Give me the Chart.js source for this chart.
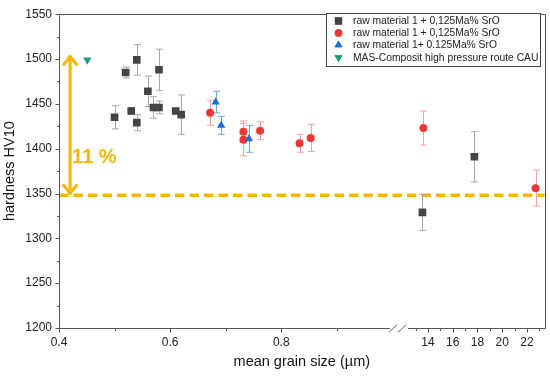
<!DOCTYPE html>
<html><head><meta charset="utf-8">
<script src="https://cdn.jsdelivr.net/npm/chart.js@4/dist/chart.umd.min.js"></script>
<style>html,body{margin:0;padding:0;background:#fff}#wrap{width:550px;height:376px;position:relative}</style>
</head><body><div id="wrap"><canvas id="c" width="550" height="376"></canvas></div>
<script>
// ---- data ----
const seriesLabels = ['raw material 1 + 0,125Ma% SrO', 'raw material 1 + 0,125Ma% SrO', 'raw material 1+ 0.125Ma% SrO', 'MAS-Composit high pressure route CAU'];
const greyX   = [0.50, 0.52, 0.54, 0.53, 0.54, 0.56, 0.57, 0.58, 0.58, 0.61, 0.62, 13.55, 17.75];
const greyY   = [1435, 1485, 1499, 1442, 1429, 1464, 1446, 1446, 1488, 1442, 1438, 1329, 1391];
const greyErr = [13, 6, 17, 4, 9, 17, 12, 7, 23, 3, 22, 20, 28];
const redX    = [0.672, 0.732, 0.732, 0.762, 0.833, 0.853, 13.63, 22.70];
const redY    = [1440, 1419, 1410, 1420, 1406, 1412, 1423, 1356];
const redErr  = [14, 12, 18, 10, 10, 15, 19, 20];
const blueX   = [0.682, 0.692, 0.742];
const blueY   = [1452, 1426, 1411];
const blueErr = [12, 10, 15];
const greenX  = [0.451];
const greenY  = [1499];
const greenErr = [0];
const refLevel = 1348;       // dashed line
const arrowTop = 1504;       // arrow upper end
const arrowX = 0.42;
const diffLabel = '11 %';
const diffLabelY = 1384;
const xTickValues = [0.4, 0.5, 0.6, 0.7, 0.8, 0.9, 13, 14, 15, 16, 17, 18, 19, 20, 21, 22, 23];
const xTickLabels = ['0.4', '', '0.6', '', '0.8', '', '', '14', '', '16', '', '18', '', '20', '', '22', ''];
const yMin = 1200, yMax = 1550, yStep = 25, yLabelStep = 50;
const xTitle = 'mean grain size (µm)';
const yTitle = 'hardness HV10';

// ---- broken axis mapping ----
const LEFT_END = 1.0, U14 = 1.0642, R = 0.02226;
function toAxis(x) { return x <= LEFT_END ? x : U14 + (x - 14) * R; }
const X_MIN = 0.4, X_MAX = 1.2741;

const FONT = '"Liberation Sans", Arial, sans-serif';
const ORANGE = '#f7b500';

function pts(xs, ys) { return xs.map((x, i) => ({ x: toAxis(x), y: ys[i] })); }

const datasets = [
  { label: seriesLabels[0], data: pts(greyX, greyY), errs: greyErr, errColor: '#a8a8a8', pointStyle: 'rect', radius: 5.4, rotation: 0, backgroundColor: '#444444', order: 4 },
  { label: seriesLabels[1], data: pts(redX, redY), errs: redErr, errColor: '#f5a0a0', pointStyle: 'circle', radius: 4, rotation: 0, backgroundColor: '#f03535', order: 3 },
  { label: seriesLabels[2], data: pts(blueX, blueY), errs: blueErr, errColor: '#6aa6e6', pointStyle: 'triangle', radius: 4.8, rotation: 0, backgroundColor: '#1a6fd6', order: 2 },
  { label: seriesLabels[3], data: pts(greenX, greenY), errs: greenErr, errColor: '#1b9e6e', pointStyle: 'triangle', radius: 4.8, rotation: 180, backgroundColor: '#1b9e6e', order: 1 }
].map(d => Object.assign(d, { pointRadius: d.radius, pointHoverRadius: d.radius, pointRotation: d.rotation, borderWidth: 0, pointBorderWidth: 0, borderColor: d.backgroundColor, showLine: false }));

const decor = {
  id: 'decor',
  beforeDatasetsDraw(chart) {
    const { ctx, scales: { x, y }, chartArea: a } = chart;
    ctx.save();
    // dashed reference line
    ctx.strokeStyle = ORANGE; ctx.lineWidth = 3.5; ctx.setLineDash([9.5, 5]);
    const ry = y.getPixelForValue(refLevel);
    ctx.beginPath(); ctx.moveTo(a.left, ry); ctx.lineTo(a.right, ry); ctx.stroke();
    ctx.setLineDash([]);
    // double arrow
    const ax = x.getPixelForValue(toAxis(arrowX));
    const t = y.getPixelForValue(arrowTop), b = ry - 1;
    ctx.lineWidth = 3; ctx.lineCap = 'round'; ctx.lineJoin = 'round';
    ctx.beginPath(); ctx.moveTo(ax, t + 1); ctx.lineTo(ax, b - 1); ctx.stroke();
    ctx.beginPath(); ctx.moveTo(ax - 6.5, t + 9); ctx.lineTo(ax, t + 1); ctx.lineTo(ax + 6.5, t + 9); ctx.stroke();
    ctx.beginPath(); ctx.moveTo(ax - 6.5, b - 9); ctx.lineTo(ax, b - 1); ctx.lineTo(ax + 6.5, b - 9); ctx.stroke();
    ctx.fillStyle = ORANGE; ctx.font = 'bold 20px ' + FONT; ctx.textBaseline = 'alphabetic'; ctx.textAlign = 'left';
    ctx.fillText(diffLabel, ax + 2, y.getPixelForValue(diffLabelY));
    // error bars
    chart.data.datasets.forEach((ds, di) => {
      const meta = chart.getDatasetMeta(di);
      ctx.strokeStyle = ds.errColor; ctx.lineWidth = 1; ctx.lineCap = 'butt';
      ds.data.forEach((p, i) => {
        const e = ds.errs[i]; if (!e) return;
        const px = Math.round(meta.data[i].x) + 0.5;
        const y1 = y.getPixelForValue(p.y + e), y2 = y.getPixelForValue(p.y - e);
        ctx.beginPath();
        ctx.moveTo(px, y1); ctx.lineTo(px, y2);
        ctx.moveTo(px - 3.5, y1); ctx.lineTo(px + 3.5, y1);
        ctx.moveTo(px - 3.5, y2); ctx.lineTo(px + 3.5, y2);
        ctx.stroke();
      });
    });
    ctx.restore();
  },
  afterDraw(chart) {
    const { ctx, scales: { x, y }, chartArea: a } = chart;
    ctx.save();
    ctx.strokeStyle = '#555'; ctx.lineWidth = 1;
    const L = Math.round(a.left) + 0.5, Rr = Math.round(a.right) + 0.5, T = Math.round(a.top) + 0.5, B = Math.round(a.bottom) + 0.5;
    // frame with break on bottom
    const brk1 = 390, brk2 = 408;
    ctx.beginPath();
    ctx.moveTo(L, T); ctx.lineTo(Rr, T); ctx.lineTo(Rr, B); ctx.lineTo(brk2, B);
    ctx.moveTo(brk1, B); ctx.lineTo(L, B); ctx.lineTo(L, T);
    ctx.stroke();
    ctx.beginPath();
    ctx.moveTo(brk1 - 1, B + 4); ctx.lineTo(brk1 + 7, B - 4);
    ctx.moveTo(brk1 + 8, B + 4); ctx.lineTo(brk1 + 16, B - 4);
    ctx.stroke();
    // x ticks
    ctx.beginPath();
    x.ticks.forEach((tk, i) => {
      const px = Math.round(x.getPixelForValue(tk.value)) + 0.5;
      const len = xTickLabels[i] ? 4 : 2.5;
      ctx.moveTo(px, B); ctx.lineTo(px, B + len);
    });
    // y ticks
    y.ticks.forEach(tk => {
      const py = Math.round(y.getPixelForValue(tk.value)) + 0.5;
      const len = tk.value % yLabelStep === 0 ? 4 : 2.5;
      ctx.moveTo(L, py); ctx.lineTo(L - len, py);
    });
    ctx.stroke();
    // axis titles
    ctx.fillStyle = '#111'; ctx.font = '14.5px ' + FONT; ctx.textAlign = 'center'; ctx.textBaseline = 'middle';
    ctx.fillText(xTitle, (a.left + a.right) / 2, 362);
    ctx.save(); ctx.translate(10, (a.top + a.bottom) / 2); ctx.rotate(-Math.PI / 2);
    ctx.fillText(yTitle, 0, 0); ctx.restore();
    // legend
    const lx = 326, ly = 13, lw = 214, lh = 53;
    ctx.fillStyle = '#fff'; ctx.fillRect(lx, ly, lw, lh);
    ctx.strokeStyle = '#444'; ctx.strokeRect(lx + 0.5, ly + 0.5, lw, lh);
    const rows = [21, 33, 45, 57.5];
    chart.data.datasets.forEach((ds, i) => {
      ctx.fillStyle = ds.backgroundColor;
      ctx.beginPath();
      const o = { pointStyle: ds.pointStyle, radius: ds.radius * 0.95, rotation: ds.rotation, borderWidth: 0 };
      Chart.helpers.drawPoint(ctx, o, 338.5, rows[i]);
      ctx.fill();
      ctx.fillStyle = '#222'; ctx.font = '10.3px ' + FONT; ctx.textAlign = 'left'; ctx.textBaseline = 'middle';
      ctx.fillText(ds.label, 353, rows[i] + 0.5);
    });
    ctx.restore();
  }
};

new Chart(document.getElementById('c'), {
  type: 'scatter',
  data: { datasets },
  options: {
    responsive: false, animation: false, devicePixelRatio: 1,
    layout: { padding: { top: 11, right: 5, left: 0, bottom: 0 } },
    plugins: { legend: { display: false }, tooltip: { enabled: false } },
    scales: {
      x: {
        type: 'linear', min: X_MIN, max: X_MAX,
        afterBuildTicks: s => { s.ticks = xTickValues.map(v => ({ value: toAxis(v) })); },
        afterFit: s => { s.height = 48; },
        grid: { display: false, drawTicks: false }, border: { display: false },
        ticks: { autoSkip: false, maxRotation: 0, padding: 7, color: '#222', font: { family: FONT, size: 12 },
          callback: (v, i) => xTickLabels[i] }
      },
      y: {
        min: yMin, max: yMax,
        afterBuildTicks: s => { const t = []; for (let v = yMin; v <= yMax; v += yStep) t.push({ value: v }); s.ticks = t; },
        afterFit: s => { s.width = 59; },
        grid: { display: false, drawTicks: false }, border: { display: false },
        ticks: { autoSkip: false, padding: 7, color: '#222', font: { family: FONT, size: 12 },
          callback: v => (v % yLabelStep === 0 ? String(v) : '') }
      }
    }
  },
  plugins: [decor]
});
</script></body></html>
